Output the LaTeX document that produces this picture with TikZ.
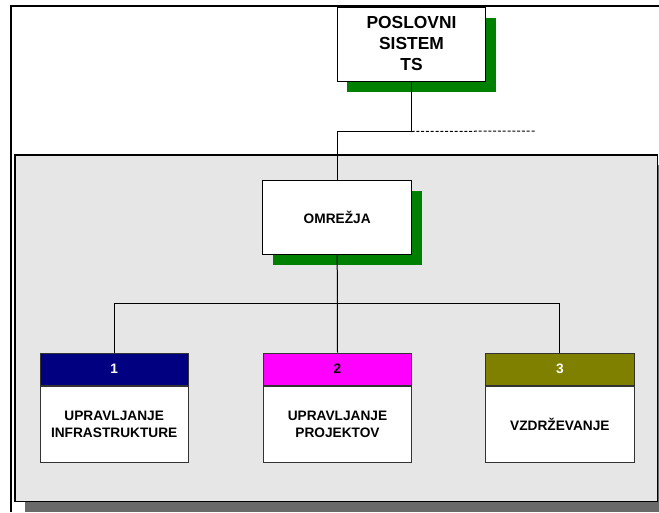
\documentclass[tikz,border=0pt]{standalone}
\usepackage{fontspec}
\setmainfont{Liberation Sans}
\usetikzlibrary{shadows}
\definecolor{panelgray}{RGB}{230,230,230}
\definecolor{panelshadow}{RGB}{105,105,105}
\definecolor{shadowgreen}{RGB}{0,128,0}
\definecolor{hnavy}{RGB}{0,0,128}
\definecolor{hmagenta}{RGB}{255,0,255}
\definecolor{holive}{RGB}{128,128,0}
\tikzset{
  bigbox/.style={draw=black, fill=white, line width=1pt, inner sep=0pt, align=center,
    font=\fontsize{13.7}{16.7}\selectfont\bfseries,
    drop shadow={shadow xshift=10pt, shadow yshift=-10.5pt, fill=shadowgreen, opacity=1}},
  hdr/.style={draw=black!80, line width=1pt, minimum width=148.4pt, minimum height=32pt,
    inner sep=0pt, font=\fontsize{13.7}{16.7}\selectfont\bfseries},
  body/.style={draw=black!80, fill=white, line width=1pt, minimum width=148.4pt,
    minimum height=76.7pt, inner sep=0pt, align=center,
    font=\fontsize{13.7}{16.7}\selectfont\bfseries},
  conn/.style={line width=1pt, black}
}
\begin{document}
\begin{tikzpicture}[x=1pt,y=-1pt]
\useasboundingbox (0,0) rectangle (659,512);
\fill[white] (0,0) rectangle (659,512);
% outer frame
\draw[line width=1.4pt] (11,512) -- (11,6) -- (659,6);
% panel with shadow
\fill[panelshadow] (25,165) rectangle (659,512);
\draw[line width=1.5pt, fill=panelgray] (15,155) rectangle (657.5,501.5);
% top box
\node[bigbox, minimum width=148.7pt, minimum height=74pt,
  font=\fontsize{17.4}{21}\selectfont\bfseries] (ps) at (411.5,44) {POSLOVNI\\SISTEM\\TS};
% omrezja
\node[bigbox, minimum width=149pt, minimum height=74pt] (om) at (337.2,217) {OMREŽJA};
% lower boxes
\node[hdr, fill=hnavy, text=white] (h1) at (114.2,369.2) {1};
\node[body, anchor=north] (b1) at (h1.south) {UPRAVLJANJE\\INFRASTRUKTURE};
\node[hdr, fill=hmagenta, text=black] (h2) at (337.5,369.2) {2};
\node[body, anchor=north] (b2) at (h2.south) {UPRAVLJANJE\\PROJEKTOV};
\node[hdr, fill=holive, text=white] (h3) at (559.9,369.2) {3};
\node[body, anchor=north] (b3) at (h3.south) {VZDRŽEVANJE};
% connectors
\draw[conn] (ps.south) -- ++(0,50) coordinate (tj) -| (om.north);
\coordinate (dashend) at (535.5,131);
\draw[line width=1pt, dash pattern=on 3pt off 1.8pt] (tj) -- (dashend);
\draw[conn] (om.south) -- (h2.north);
\coordinate (bus) at (337.5,303);
\draw[conn] (h1.north) -- (h1.north |- bus) -- (h3.north |- bus) -- (h3.north);
\end{tikzpicture}
\end{document}
